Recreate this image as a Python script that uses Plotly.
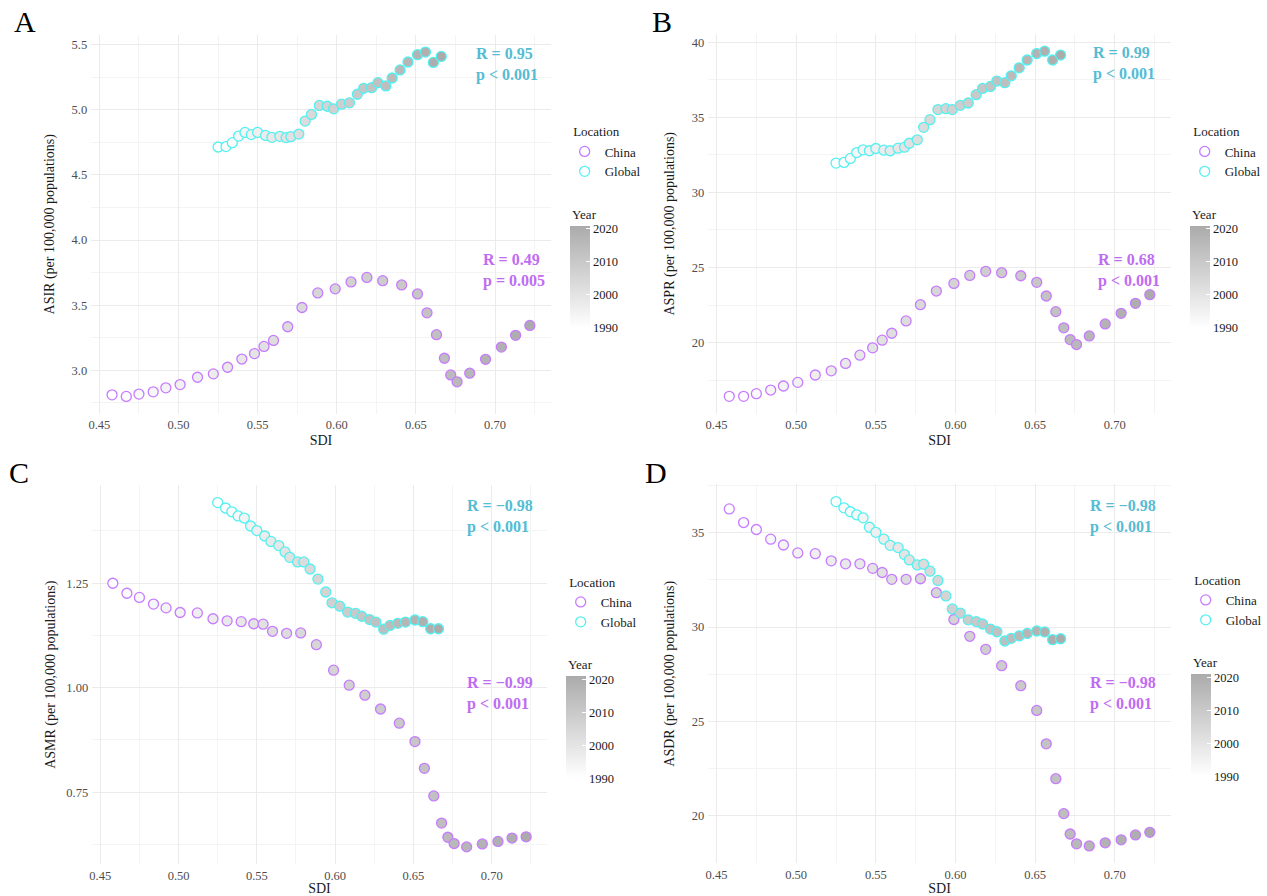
import plotly.graph_objects as go

# ---------------- data ----------------
years = list(range(1990, 2022))

sdi_china = [0.458, 0.467, 0.475, 0.484, 0.492, 0.501, 0.512, 0.522, 0.531, 0.540, 0.548,
             0.554, 0.560, 0.569, 0.578, 0.588, 0.599, 0.609, 0.619, 0.629, 0.641, 0.651,
             0.657, 0.663, 0.668, 0.672, 0.676, 0.684, 0.694, 0.704, 0.713, 0.722]
sdi_global = [0.525, 0.530, 0.534, 0.538, 0.542, 0.546, 0.550, 0.555, 0.559, 0.564, 0.568,
              0.571, 0.576, 0.580, 0.584, 0.589, 0.594, 0.598, 0.603, 0.608, 0.613, 0.617,
              0.622, 0.626, 0.631, 0.635, 0.640, 0.645, 0.651, 0.656, 0.661, 0.666]

asir_china = [2.811, 2.799, 2.817, 2.834, 2.865, 2.890, 2.946, 2.972, 3.023, 3.086, 3.128,
              3.183, 3.229, 3.334, 3.482, 3.594, 3.625, 3.678, 3.713, 3.688, 3.655, 3.586,
              3.441, 3.273, 3.092, 2.964, 2.911, 2.977, 3.084, 3.178, 3.268, 3.344]
asir_global = [4.715, 4.718, 4.748, 4.799, 4.827, 4.810, 4.827, 4.804, 4.789, 4.797, 4.787,
               4.794, 4.814, 4.914, 4.965, 5.034, 5.028, 5.008, 5.044, 5.054, 5.120, 5.166,
               5.171, 5.209, 5.184, 5.245, 5.307, 5.368, 5.424, 5.444, 5.365, 5.411]

aspr_china = [16.42, 16.42, 16.60, 16.84, 17.11, 17.35, 17.84, 18.12, 18.61, 19.16, 19.65,
              20.16, 20.62, 21.44, 22.52, 23.43, 23.94, 24.47, 24.74, 24.65, 24.45, 24.01,
              23.10, 22.06, 20.98, 20.20, 19.87, 20.44, 21.24, 21.95, 22.61, 23.19]
aspr_global = [31.95, 31.99, 32.26, 32.65, 32.83, 32.77, 32.92, 32.81, 32.77, 32.94, 33.01,
               33.27, 33.50, 34.33, 34.84, 35.51, 35.57, 35.51, 35.79, 35.95, 36.50, 36.92,
               37.05, 37.41, 37.30, 37.76, 38.29, 38.81, 39.24, 39.40, 38.81, 39.14]

asmr_china = [1.250, 1.226, 1.216, 1.200, 1.191, 1.180, 1.179, 1.165, 1.160, 1.158, 1.153,
              1.152, 1.135, 1.130, 1.131, 1.103, 1.042, 1.006, 0.982, 0.949, 0.915, 0.871,
              0.807, 0.741, 0.676, 0.642, 0.627, 0.619, 0.626, 0.632, 0.640, 0.643]
asmr_global = [1.443, 1.430, 1.421, 1.411, 1.406, 1.387, 1.376, 1.363, 1.350, 1.340, 1.325,
               1.312, 1.301, 1.301, 1.284, 1.260, 1.229, 1.203, 1.195, 1.181, 1.178, 1.171,
               1.163, 1.157, 1.140, 1.149, 1.154, 1.157, 1.162, 1.158, 1.141, 1.141]

asdr_china = [36.26, 35.54, 35.17, 34.66, 34.35, 33.93, 33.89, 33.51, 33.35, 33.35, 33.11,
              32.89, 32.53, 32.53, 32.56, 31.82, 30.40, 29.51, 28.82, 27.95, 26.89, 25.58,
              23.81, 21.96, 20.11, 19.03, 18.51, 18.40, 18.56, 18.72, 18.98, 19.12]
asdr_global = [36.65, 36.32, 36.11, 35.95, 35.79, 35.29, 35.02, 34.66, 34.33, 34.21, 33.84,
               33.56, 33.29, 33.33, 32.96, 32.47, 31.65, 30.96, 30.74, 30.38, 30.29, 30.16,
               29.89, 29.75, 29.26, 29.40, 29.53, 29.66, 29.79, 29.74, 29.33, 29.38]

panel_letters = ["A", "B", "C", "D"]
y_titles = ["ASIR (per 100,000 populations)", "ASPR (per 100,000 populations)",
            "ASMR (per 100,000 populations)", "ASDR (per 100,000 populations)"]
china_series = [asir_china, aspr_china, asmr_china, asdr_china]
global_series = [asir_global, aspr_global, asmr_global, asdr_global]
stats_global = [("R = 0.95", "p &lt; 0.001"), ("R = 0.99", "p &lt; 0.001"),
                ("R = \u22120.98", "p &lt; 0.001"), ("R = \u22120.98", "p &lt; 0.001")]
stats_china = [("R = 0.49", "p = 0.005"), ("R = 0.68", "p &lt; 0.001"),
               ("R = \u22120.99", "p &lt; 0.001"), ("R = \u22120.98", "p &lt; 0.001")]
location_names = ["China", "Global"]

# ---------------- styling / layout ----------------
W, H = 1267, 896
FONT = "Liberation Serif"
COL_CHINA = "#C77CFF"
COL_GLOBAL = "#55F0F0"
TXT_CHINA = "#C06CF2"
TXT_GLOBAL = "#55BCD4"
GRID = "#EBEBEB"
MINOR = "#F4F4F4"

# plot areas in pixels (x0, x1, ytop, ybottom)
boxes = [(89, 553, 35, 415), (712, 1179, 34, 415), (90, 549, 487, 867), (712, 1179, 486, 866)]
y_ticks = [(3.0, 0.5, 0.25, ".1f"), (20, 5, 2.5, "d"), (0.75, 0.25, 0.125, ".2f"), (20, 5, 2.5, "d")]
ytitle_standoff = [13, 13, 7, 13]
letter_pos = [(22, 22), (665, 22), (16, 474), (659, 474)]
legend_pos = [(567, 120), (1193, 120), (563, 572), (1194, 570)]
cbar_pos = [(572, 226.4, 328), (1198, 226.4, 328.3), (568, 678.4, 780.7), (1199, 676.7, 778.3)]
year_title_pos = [(572, 215), (1198, 215), (568, 667), (1199, 665)]
ann_x = [(0.834, 0.849), (0.827, 0.839), (0.821, 0.821), (0.820, 0.820)]
ann_y = [(0.921, 0.377), (0.921, 0.377), (0.918, 0.451), (0.915, 0.447)]


def expand(vals, frac=0.05):
    lo, hi = min(vals), max(vals)
    d = (hi - lo) * frac
    return [lo - d, hi + d]


fig = go.Figure()
layout = dict(
    width=W, height=H, margin=dict(l=0, r=0, t=0, b=0),
    paper_bgcolor="white", plot_bgcolor="white",
    font=dict(family=FONT, color="#1A1A1A", size=13),
    annotations=[],
)

x_range = expand(sdi_china + sdi_global)

for i in range(4):
    s = "" if i == 0 else str(i + 1)
    xa, ya = "x" + s, "y" + s
    ca = "coloraxis" + s
    lg = "legend" + s
    x0, x1, yt, yb = boxes[i]

    for name, xs, ys, col in [("China", sdi_china, china_series[i], COL_CHINA),
                              ("Global", sdi_global, global_series[i], COL_GLOBAL)]:
        fig.add_trace(go.Scatter(
            x=xs, y=ys, mode="markers", xaxis=xa, yaxis=ya, showlegend=False,
            name=name, customdata=years,
            marker=dict(color=years, coloraxis=ca, size=10, opacity=1,
                        line=dict(color=col, width=1.3)),
        ))
    # legend entries (open circles)
    for name, col in [("China", COL_CHINA), ("Global", COL_GLOBAL)]:
        fig.add_trace(go.Scatter(
            x=[None], y=[None], mode="markers", xaxis=xa, yaxis=ya, name=name,
            legend=lg, showlegend=True,
            marker=dict(color="rgba(0,0,0,0)", size=10, line=dict(color=col, width=1.3)),
        ))

    ytick0, ydt, yminor, yfmt = y_ticks[i]
    layout["xaxis" + s] = dict(
        domain=[x0 / W, x1 / W], anchor=ya, range=x_range,
        tick0=0.45, dtick=0.05, tickformat=".2f",
        showgrid=True, gridcolor=GRID, gridwidth=1, zeroline=False, showline=False,
        ticks="", tickfont=dict(size=12.5, color="#4D4D4D"),
        minor=dict(dtick=0.025, tick0=0.45, showgrid=True, gridcolor=MINOR, gridwidth=1),
        title=dict(text="SDI", font=dict(size=14, color="#1A1A1A"), standoff=4),
        ticklabelstandoff=2,
    )
    layout["yaxis" + s] = dict(
        domain=[1 - yb / H, 1 - yt / H], anchor=xa,
        range=expand(china_series[i] + global_series[i]),
        tick0=ytick0, dtick=ydt, tickformat=yfmt,
        showgrid=True, gridcolor=GRID, gridwidth=1, zeroline=False, showline=False,
        ticks="", tickfont=dict(size=12.5, color="#4D4D4D"),
        minor=dict(dtick=yminor, tick0=ytick0, showgrid=True, gridcolor=MINOR, gridwidth=1),
        title=dict(text=y_titles[i], font=dict(size=14, color="#1A1A1A"),
                   standoff=ytitle_standoff[i]),
        ticklabelstandoff=3,
    )

    cx, ctop, cbot = cbar_pos[i]
    layout[ca] = dict(
        cmin=1990, cmax=2021,
        colorscale=[[0, "#FFFFFF"], [1, "#ABABAB"]],
        colorbar=dict(
            x=cx / W, xanchor="left", xpad=0, ypad=0,
            y=1 - ctop / H, yanchor="top", len=cbot - ctop, lenmode="pixels",
            thickness=20, thicknessmode="pixels", outlinewidth=0,
            tickvals=[1990, 2000, 2010, 2020], ticks="inside", ticklen=4,
            tickcolor="white", tickwidth=1,
            tickfont=dict(size=12.5, color="#1A1A1A", family=FONT),
        ),
    )

    lx, ly = legend_pos[i]
    layout[lg] = dict(
        x=lx / W, y=1 - ly / H, xanchor="left", yanchor="top",
        bgcolor="rgba(0,0,0,0)", borderwidth=0,
        title=dict(text="\u00a0\u00a0Location", font=dict(size=13, color="#1A1A1A")),
        font=dict(size=13, color="#1A1A1A", family=FONT),
        itemwidth=30, tracegroupgap=0,
    )

    # Year title
    yx, yy = year_title_pos[i]
    layout["annotations"].append(dict(
        text="Year", x=yx / W, y=1 - yy / H, xref="paper", yref="paper",
        xanchor="left", yanchor="middle", showarrow=False,
        font=dict(size=13, color="#1A1A1A", family=FONT)))

    # panel letter
    px_, py_ = letter_pos[i]
    layout["annotations"].append(dict(
        text=panel_letters[i], x=px_ / W, y=1 - py_ / H, xref="paper", yref="paper",
        xanchor="center", yanchor="middle", showarrow=False,
        font=dict(size=30, color="black", family=FONT)))

    # correlation annotations
    for (txt, col, axx, axy) in [(stats_global[i], TXT_GLOBAL, ann_x[i][0], ann_y[i][0]),
                                 (stats_china[i], TXT_CHINA, ann_x[i][1], ann_y[i][1])]:
        layout["annotations"].append(dict(
            text="<b>" + txt[0] + "<br>" + txt[1] + "</b>", x=axx, y=axy,
            xref=xa + " domain", yref=ya + " domain",
            xanchor="left", yanchor="middle", align="left", showarrow=False,
            font=dict(size=16, color=col, family=FONT)))

fig.update_layout(**layout)
fig.write_html("out.html")
